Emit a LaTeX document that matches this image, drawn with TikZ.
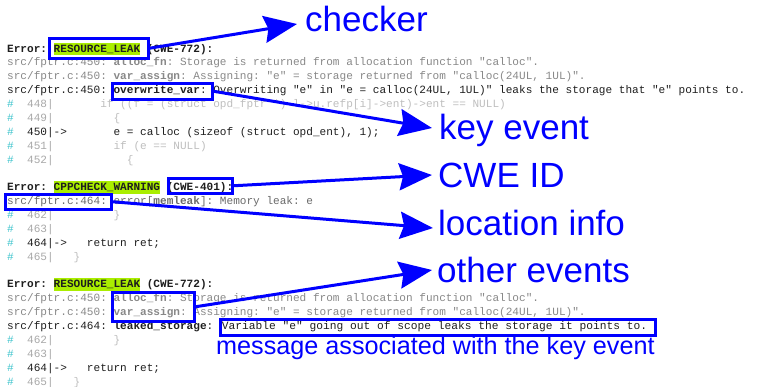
\documentclass[tikz,border=0pt]{standalone}
\usepackage{fontspec}
\setmonofont{Liberation Mono}
\newfontfamily\labelfont{Liberation Sans}
\usetikzlibrary{arrows.meta}
\definecolor{dk}{HTML}{1E1E1E}
\definecolor{gr}{HTML}{888888}
\definecolor{gr2}{HTML}{6A6A6A}
\definecolor{ln}{HTML}{A8A8A8}
\definecolor{cd}{HTML}{BEBEBE}
\definecolor{cy}{HTML}{3CC3CC}
\definecolor{hlg}{HTML}{AAEE00}
\definecolor{bl}{HTML}{0000FF}
\newcommand{\hlbox}[1]{{\setlength{\fboxsep}{0pt}\colorbox{hlg}{\rule[-3pt]{0pt}{12.5pt}#1}}}
\newcommand{\hs}{\textcolor{cy}{\#}~~}
\begin{document}
\begin{tikzpicture}[x=1pt,y=-1pt,
  code/.style={anchor=base west,inner sep=0pt,font=\ttfamily\fontsize{11.08}{13.88}\selectfont,text=dk},
  lbl/.style={anchor=base west,inner sep=0pt,font=\labelfont\fontsize{35}{35}\selectfont,text=bl},
  msg/.style={anchor=base west,inner sep=0pt,font=\labelfont\fontsize{25.2}{25.2}\selectfont,text=bl},
  bbox/.style={draw=bl,line width=2.5pt,anchor=north west,inner sep=0pt},
  barrow/.style={draw=bl,line width=3pt,-{Stealth[length=33pt,width=27pt,inset=4pt]}}]
\useasboundingbox (0,0) rectangle (762,386);
% block 1
\node[code] (e1) at (7,52) {\textbf{Error: \hlbox{RESOURCE\_LEAK} (CWE-772):}};
\node[code,text=gr] (e1a) at (7,65.88) {src/fptr.c:450: \textbf{alloc\_fn}: Storage is returned from allocation function "calloc".};
\node[code,text=gr] (e1b) at (7,79.76) {src/fptr.c:450: \textbf{var\_assign}: Assigning: "e" = storage returned from "calloc(24UL, 1UL)".};
\node[code] (e1c) at (7,93.64) {src/fptr.c:450: \textbf{overwrite\_var}: Overwriting "e" in "e = calloc(24UL, 1UL)" leaks the storage that "e" points to.};
\node[code,text=ln] (s448) at (7,107.52) {\hs 448|\textcolor{cd}{~~~~~~~if ((f = (struct opd\_fptr *) l->u.refp[i]->ent)->ent == NULL)}};
\node[code,text=ln] (s449) at (7,121.4) {\hs 449|\textcolor{cd}{~~~~~~~~~\{}};
\node[code] (s450) at (7,135.28) {\hs 450|->~~~~~~~e = calloc (sizeof (struct opd\_ent), 1);};
\node[code,text=ln] (s451) at (7,149.16) {\hs 451|\textcolor{cd}{~~~~~~~~~if (e == NULL)}};
\node[code,text=ln] (s452) at (7,163.04) {\hs 452|\textcolor{cd}{~~~~~~~~~~~\{}};
% block 2
\node[code] (e2) at (7,190.8) {\textbf{Error: \hlbox{CPPCHECK\_WARNING} (CWE-401):}};
\node[code,text=gr2] (e2a) at (7,204.68) {src/fptr.c:464: error[\textbf{memleak}]: Memory leak: e};
\node[code,text=ln] (t462) at (7,218.56) {\hs 462|\textcolor{cd}{~~~~~~~~~\}}};
\node[code,text=ln] (t463) at (7,232.44) {\hs 463|};
\node[code] (t464) at (7,246.32) {\hs 464|->~~~return ret;};
\node[code,text=ln] (t465) at (7,260.2) {\hs 465|\textcolor{cd}{~~~\}}};
% block 3
\node[code] (e3) at (7,287.96) {\textbf{Error: \hlbox{RESOURCE\_LEAK} (CWE-772):}};
\node[code,text=gr] (e3a) at (7,301.84) {src/fptr.c:450: \textbf{alloc\_fn}: Storage is returned from allocation function "calloc".};
\node[code,text=gr] (e3b) at (7,315.72) {src/fptr.c:450: \textbf{var\_assign}: Assigning: "e" = storage returned from "calloc(24UL, 1UL)".};
\node[code] (e3c) at (7,329.6) {src/fptr.c:464: \textbf{leaked\_storage}: \hspace{2pt}{\fontsize{11.25}{13.88}\selectfont Variable "e" going out of scope leaks the storage it points to.}};
\node[code,text=ln] (u462) at (7,343.48) {\hs 462|\textcolor{cd}{~~~~~~~~~\}}};
\node[code,text=ln] (u463) at (7,357.36) {\hs 463|};
\node[code] (u464) at (7,371.24) {\hs 464|->~~~return ret;};
\node[code,text=ln] (u465) at (7,385.12) {\hs 465|\textcolor{cd}{~~~\}}};
% labels
\node[lbl] (checker) at (305,31) {checker};
\node[lbl] (keyev) at (439,139) {key event};
\node[lbl] (cweid) at (438,187) {CWE ID};
\node[lbl] (locinfo) at (438,235) {location info};
\node[lbl] (other) at (437,282) {other events};
\node[msg] (message) at (216,354) {message associated with the key event};
% boxes
\node[bbox,minimum width=99pt,minimum height=20pt] (b1) at (48,37) {};
\node[bbox,minimum width=100pt,minimum height=16pt] (b2) at (111,82) {};
\node[bbox,minimum width=64pt,minimum height=15pt] (b3) at (167,177) {};
\node[bbox,minimum width=106pt,minimum height=15pt] (b4) at (4,193) {};
\node[bbox,minimum width=82pt,minimum height=29pt] (b5) at (111,291) {};
\node[bbox,minimum width=435pt,minimum height=16pt] (b6) at (219,318) {};
% arrows
\draw[barrow] (b1.east) -- ([shift={(-8,-7)}]checker.base west);
\draw[barrow] (b2.east) -- ([shift={(-7,-11)}]keyev.base west);
\draw[barrow] (b3.east) -- ([shift={(-6,-12)}]cweid.base west);
\draw[barrow] (b4.east) -- ([shift={(-5,-7)}]locinfo.base west);
\draw[barrow] (b5.east) -- ([shift={(-5,-12)}]other.base west);
\end{tikzpicture}
\end{document}
